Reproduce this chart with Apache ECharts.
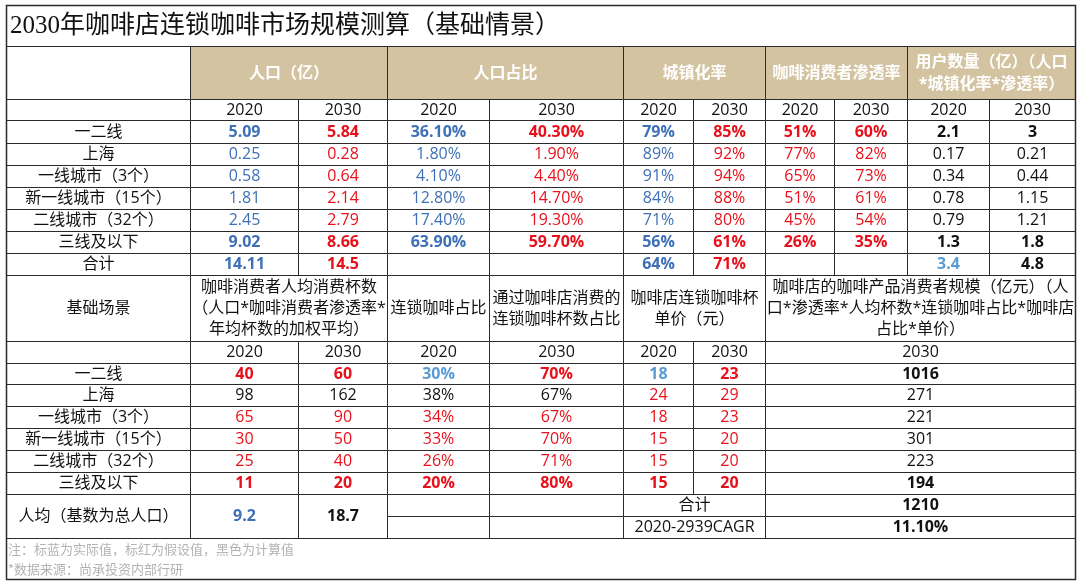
<!DOCTYPE html>
<html>
<head>
<meta charset="utf-8">
<script src="https://cdn.jsdelivr.net/npm/echarts@6/dist/echarts.min.js"></script>
<style>
    html, body {margin: 0; padding: 0; background: #fff;}
    #tableChart {width: 1080px; height: 585px;}
</style>
</head>
<body>
<div id="tableChart"></div>
<script>
let tableChart = echarts.init(document.getElementById('tableChart'));

// ---- 数据 ----
const titleText = '2030年咖啡店连锁咖啡市场规模测算（基础情景）';
const regions = ['一二线', '上海', '一线城市（3个）', '新一线城市（15个）', '二线城市（32个）', '三线及以下'];
const years = ['2020', '2030'];

// 上表
const pop2020 = [5.09, 0.25, 0.58, 1.81, 2.45, 9.02];
const pop2030 = [5.84, 0.28, 0.64, 2.14, 2.79, 8.66];
const popTotal = [14.11, 14.5];
const popShare2020 = [36.1, 1.8, 4.1, 12.8, 17.4, 63.9];
const popShare2030 = [40.3, 1.9, 4.4, 14.7, 19.3, 59.7];
const urban2020 = [79, 89, 91, 84, 71, 56];
const urban2030 = [85, 92, 94, 88, 80, 61];
const urbanTotal = [64, 71];
const penetration2020 = [51, 77, 65, 51, 45, 26];
const penetration2030 = [60, 82, 73, 61, 54, 35];
const users2020 = [2.1, 0.17, 0.34, 0.78, 0.79, 1.3];
const users2030 = [3, 0.21, 0.44, 1.15, 1.21, 1.8];
const usersTotal = [3.4, 4.8];

// 下表
const cups2020 = [40, 98, 65, 30, 25, 11];
const cups2030 = [60, 162, 90, 50, 40, 20];
const cupsAvg = [9.2, 18.7];
const chainShare2020 = [30, 38, 34, 33, 26, 20];
const storeShare2030 = [70, 67, 67, 70, 71, 80];
const price2020 = [18, 24, 18, 15, 15, 15];
const price2030 = [23, 29, 23, 20, 20, 20];
const market2030 = [1016, 271, 221, 301, 223, 194];
const marketTotal = 1210;
const marketCagr = 11.1;

// 数值类型 a 实际值(蓝) a2 实际值(浅蓝) r 假设值(红) c 计算值(黑)
const topKinds = ['a', 'r', 'a', 'r', 'a', 'r', 'r', 'r', 'c', 'c'];
const cups2020Kind = ['r', 'c', 'r', 'r', 'r', 'r'];
const cups2030Kind = ['r', 'c', 'r', 'r', 'r', 'r'];
const chainShareKind = ['a2', 'c', 'r', 'r', 'r', 'r'];
const storeShareKind = ['r', 'c', 'r', 'r', 'r', 'r'];
const price2020Kind = ['a2', 'r', 'r', 'r', 'r', 'r'];
const price2030Kind = ['r', 'r', 'r', 'r', 'r', 'r'];
const boldRows = [0, 5];

const notes = ['注：标蓝为实际值，标红为假设值，黑色为计算值', '*数据来源：尚承投资内部行研'];

// ---- 版式 ----
const colEdges = [6, 190, 298, 387, 489, 623, 693, 765, 834, 907, 989, 1075];
const rowEdges = [5, 46, 99, 120, 143, 165, 187, 209, 231, 253, 275, 341, 363, 384, 406, 428, 450, 472, 494, 516, 538, 579];

const kindColor = {a: '#3d70b6', a2: '#5b9bd5', r: '#e8101a', c: '#111111'};
const beige = '#d4c3a1';
const bodyFont = '"Open Sans", "Noto Sans CJK SC", sans-serif';

const pct = v => v.toFixed(2) + '%';
const pct0 = v => v + '%';

let cells = [];

function addCell(c0, c1, r0, r1, text, opt) {
    cells.push(Object.assign({value: [c0, c1, r0, r1], text: text}, opt || {}));
}

function valueCell(c0, c1, r0, text, kind, bold) {
    addCell(c0, c1, r0, r0 + 1, text, {color: kindColor[kind], bold: bold});
}

// 标题
addCell(0, 11, 0, 1, titleText, {left: true, size: 25, distance: 4, family: '"Liberation Serif", "Noto Sans CJK SC", serif'});

// 上表表头
addCell(0, 1, 1, 2, '');
addCell(1, 3, 1, 2, '人口（亿）', {fill: beige, color: '#fff', bold: true});
addCell(3, 5, 1, 2, '人口占比', {fill: beige, color: '#fff', bold: true});
addCell(5, 7, 1, 2, '城镇化率', {fill: beige, color: '#fff', bold: true});
addCell(7, 9, 1, 2, '咖啡消费者渗透率', {fill: beige, color: '#fff', bold: true});
addCell(9, 11, 1, 2, '用户数量（亿）（人口\n*城镇化率*渗透率）', {fill: beige, color: '#fff', bold: true, lineHeight: 22});
addCell(0, 1, 2, 3, '');
for (let k = 0; k < 10; k++) {
    addCell(1 + k, 2 + k, 2, 3, years[k % 2]);
}

// 上表数据
const topCols = [
    pop2020.map(String), pop2030.map(String),
    popShare2020.map(pct), popShare2030.map(pct),
    urban2020.map(pct0), urban2030.map(pct0),
    penetration2020.map(pct0), penetration2030.map(pct0),
    users2020.map(String), users2030.map(String)
];
for (let i = 0; i < regions.length; i++) {
    let r0 = 3 + i;
    let bold = boldRows.indexOf(i) >= 0;
    addCell(0, 1, r0, r0 + 1, regions[i]);
    for (let k = 0; k < topCols.length; k++) {
        valueCell(1 + k, 2 + k, r0, topCols[k][i], topKinds[k], bold);
    }
}
addCell(0, 1, 9, 10, '合计');
valueCell(1, 2, 9, String(popTotal[0]), 'a', true);
valueCell(2, 3, 9, String(popTotal[1]), 'r', true);
addCell(3, 4, 9, 10, '');
addCell(4, 5, 9, 10, '');
valueCell(5, 6, 9, pct0(urbanTotal[0]), 'a', true);
valueCell(6, 7, 9, pct0(urbanTotal[1]), 'r', true);
addCell(7, 8, 9, 10, '');
addCell(8, 9, 9, 10, '');
valueCell(9, 10, 9, String(usersTotal[0]), 'a2', true);
valueCell(10, 11, 9, String(usersTotal[1]), 'c', true);

// 下表表头
addCell(0, 1, 10, 11, '基础场景');
addCell(1, 3, 10, 11, '咖啡消费者人均消费杯数\n（人口*咖啡消费者渗透率*\n年均杯数的加权平均）');
addCell(3, 4, 10, 11, '连锁咖啡占比');
addCell(4, 5, 10, 11, '通过咖啡店消费的\n连锁咖啡杯数占比');
addCell(5, 7, 10, 11, '咖啡店连锁咖啡杯\n单价（元）');
addCell(7, 11, 10, 11, '咖啡店的咖啡产品消费者规模（亿元）（人\n口*渗透率*人均杯数*连锁咖啡占比*咖啡店\n占比*单价）');
addCell(0, 1, 11, 12, '');
for (let k = 0; k < 6; k++) {
    addCell(1 + k, 2 + k, 11, 12, years[k % 2]);
}
addCell(7, 11, 11, 12, years[1]);

// 下表数据
for (let i = 0; i < regions.length; i++) {
    let r0 = 12 + i;
    let bold = boldRows.indexOf(i) >= 0;
    addCell(0, 1, r0, r0 + 1, regions[i]);
    valueCell(1, 2, r0, String(cups2020[i]), cups2020Kind[i], bold);
    valueCell(2, 3, r0, String(cups2030[i]), cups2030Kind[i], bold);
    valueCell(3, 4, r0, pct0(chainShare2020[i]), chainShareKind[i], bold);
    valueCell(4, 5, r0, pct0(storeShare2030[i]), storeShareKind[i], bold);
    valueCell(5, 6, r0, String(price2020[i]), price2020Kind[i], bold);
    valueCell(6, 7, r0, String(price2030[i]), price2030Kind[i], bold);
    valueCell(7, 11, r0, String(market2030[i]), 'c', bold);
}
addCell(0, 1, 18, 20, '人均（基数为总人口）');
addCell(1, 2, 18, 20, String(cupsAvg[0]), {color: kindColor.a, bold: true});
addCell(2, 3, 18, 20, String(cupsAvg[1]), {color: kindColor.c, bold: true});
addCell(3, 4, 18, 19, '');
addCell(3, 4, 19, 20, '');
addCell(4, 5, 18, 19, '');
addCell(4, 5, 19, 20, '');
addCell(5, 7, 18, 19, '合计');
addCell(5, 7, 19, 20, '2020-2939CAGR');
valueCell(7, 11, 18, String(marketTotal), 'c', true);
valueCell(7, 11, 19, pct(marketCagr), 'c', true);

// 注释
addCell(0, 11, 20, 21, notes.join('\n'), {left: true, size: 13, color: '#b3b3b3', lineHeight: 20, distance: 2, family: '"Noto Sans CJK SC", sans-serif'});

// 外框
addCell(0, 11, 0, 21, '', {fill: 'none', frame: true});

function renderCell(params, api) {
    let item = cells[params.dataIndex];
    let p0 = api.coord([colEdges[api.value(0)], rowEdges[api.value(2)]]);
    let p1 = api.coord([colEdges[api.value(1)], rowEdges[api.value(3)]]);
    let x0 = Math.round(p0[0]), y0 = Math.round(p0[1]);
    let x1 = Math.round(p1[0]), y1 = Math.round(p1[1]);
    return {
        type: 'rect',
        shape: {x: x0 + 0.5, y: y0 + 0.5, width: x1 - x0, height: y1 - y0},
        style: {
            fill: item.fill || '#fff',
            stroke: '#2a2a2a',
            lineWidth: item.frame ? 1.5 : 1
        },
        textContent: {
            style: {
                text: item.text,
                fill: item.color || '#111',
                fontSize: item.size || 16,
                fontWeight: item.bold ? 'bold' : 'normal',
                fontFamily: item.family || bodyFont,
                align: item.left ? 'left' : 'center',
                verticalAlign: 'middle',
                lineHeight: item.lineHeight || 21
            }
        },
        textConfig: {
            position: item.left ? 'insideLeft' : 'inside',
            distance: item.distance || 0
        }
    };
}

let tableOption = {
    animation: false,
    grid: {left: 0, right: 0, top: 0, bottom: 0},
    xAxis: {type: 'value', min: 0, max: 1080, show: false},
    yAxis: {type: 'value', min: 0, max: 585, inverse: true, show: false},
    graphic: [
        // 尚承投资 logo
        {type: 'polygon', shape: {points: [[955, 15], [967, 20], [967, 24], [955, 19]]}, style: {fill: '#3b6db3'}},
        {type: 'polygon', shape: {points: [[955, 21], [967, 26], [967, 30], [955, 25]]}, style: {fill: '#c9a45c'}},
        {type: 'polygon', shape: {points: [[955, 27], [967, 32], [967, 36], [955, 31]]}, style: {fill: '#5b8fd0'}},
        {type: 'text', left: 970, top: 16, style: {text: '尚 承 投 資', fontSize: 9, fontWeight: 'bold', fill: '#333', fontFamily: '"Noto Sans CJK SC"'}},
        {type: 'text', left: 970, top: 29, style: {text: 'ZEN INVESTMENT', fontSize: 5.5, fill: '#555', fontFamily: 'Roboto'}},
        // 沥金
        {type: 'polygon', shape: {points: [[1030, 22], [1052, 18], [1056, 40], [1033, 42]]}, style: {fill: '#c8a866'}},
        {type: 'text', left: 1035, top: 9, style: {text: '沥', fontSize: 13, fontWeight: 'bold', fill: '#222', fontFamily: '"Noto Sans CJK SC"'}},
        {type: 'text', left: 1036, top: 25, style: {text: '金', fontSize: 13, fontWeight: 'bold', fill: '#222', fontFamily: '"Noto Sans CJK SC"'}},
        {type: 'line', shape: {x1: 1052, y1: 18, x2: 1058, y2: 10}, style: {stroke: '#999', lineWidth: 1}},
        {type: 'line', shape: {x1: 1054, y1: 22, x2: 1064, y2: 18}, style: {stroke: '#999', lineWidth: 1}}
    ],
    series: [
        {
            type: 'custom',
            renderItem: renderCell,
            data: cells.map(c => c.value),
            silent: true
        }
    ]
};
tableChart.setOption(tableOption);

window.onresize = function () {
    tableChart.resize();
};
</script>
</body>
</html>
